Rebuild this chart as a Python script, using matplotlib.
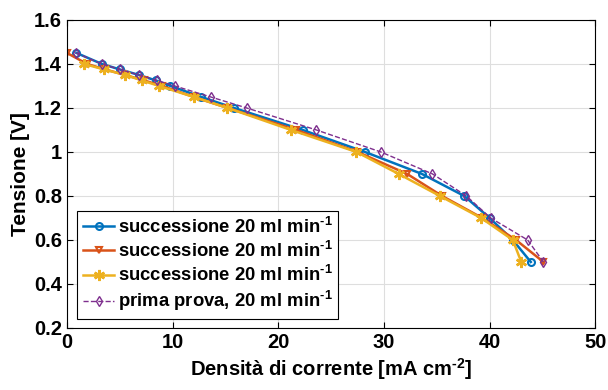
import matplotlib
matplotlib.use('Agg')
import matplotlib.pyplot as plt
from matplotlib.ticker import FormatStrFormatter

plt.rcParams['font.family'] = ['Liberation Sans', 'DejaVu Sans']
plt.rcParams['font.weight'] = 'bold'
plt.rcParams['mathtext.fontset'] = 'custom'
plt.rcParams['mathtext.rm'] = 'Liberation Sans:bold'
plt.rcParams['mathtext.bf'] = 'Liberation Sans:bold'
plt.rcParams['mathtext.it'] = 'Liberation Sans:bold'
plt.rcParams['mathtext.default'] = 'bf'

# data
blue_x = [0.9, 3.3, 5.0, 6.8, 8.4, 9.8, 12.7, 15.8, 22.3, 28.2, 33.6, 37.6, 40.0, 42.2, 43.9]
blue_y = [1.45, 1.40, 1.375, 1.35, 1.325, 1.30, 1.25, 1.20, 1.10, 1.00, 0.90, 0.80, 0.70, 0.60, 0.50]

orange_x = [0.0, 1.9, 3.6, 5.5, 7.3, 9.0, 12.0, 15.2, 21.7, 27.5, 32.2, 35.5, 39.3, 42.5, 45.1]
orange_y = [1.45, 1.40, 1.375, 1.35, 1.325, 1.30, 1.25, 1.20, 1.10, 1.00, 0.90, 0.80, 0.70, 0.60, 0.50]

yellow_x = [1.6, 3.5, 5.5, 7.1, 8.7, 12.0, 15.2, 21.2, 27.4, 31.4, 35.3, 39.2, 42.2, 43.0]
yellow_y = [1.40, 1.375, 1.35, 1.325, 1.30, 1.25, 1.20, 1.10, 1.00, 0.90, 0.80, 0.70, 0.60, 0.50]

purple_x = [0.85, 3.3, 5.0, 6.8, 8.5, 10.2, 13.6, 17.0, 23.6, 29.7, 34.6, 37.8, 40.1, 43.6, 45.1]
purple_y = [1.45, 1.40, 1.375, 1.35, 1.325, 1.30, 1.25, 1.20, 1.10, 1.00, 0.90, 0.80, 0.70, 0.60, 0.50]

sup = r'$^{\text{-1}}$'
labels = ['successione 20 ml min' + sup,
          'successione 20 ml min' + sup,
          'successione 20 ml min' + sup,
          'prima prova, 20 ml min' + sup]

fig = plt.figure(figsize=(6.08, 3.90), dpi=100)
ax = fig.add_axes([0.110, 0.159, 0.869, 0.790])

ax.plot(blue_x, blue_y, '-o', color='#0072BD', lw=1.8, ms=5, mfc='none', mew=1.5, label=labels[0])
ax.plot(orange_x, orange_y, '-v', color='#D95319', lw=1.8, ms=5, mfc='none', mew=1.5, label=labels[1])
ax.plot(yellow_x, yellow_y, '-', marker=(6, 2, 0), color='#EDB120', lw=1.8, ms=8, mew=1.8, label=labels[2])
ax.plot(purple_x, purple_y, '--d', color='#7E2F8E', lw=1.0, ms=5, mfc='none', mew=1.0, label=labels[3])

ax.set_xlim(0, 50)
ax.set_ylim(0.2, 1.6)
ax.set_xticks([0, 10, 20, 30, 40, 50])
ax.set_yticks([0.2, 0.4, 0.6, 0.8, 1.0, 1.2, 1.4, 1.6])
ax.yaxis.set_major_formatter(FormatStrFormatter('%g'))
ax.grid(True, color='#dedede', lw=0.8)
ax.set_axisbelow(True)
ax.tick_params(direction='in', top=True, right=True, labelsize=14.5, length=4, width=0.8)
for lbl in ax.get_xticklabels() + ax.get_yticklabels():
    lbl.set_fontweight('bold')
for s in ax.spines.values():
    s.set_linewidth(0.8)

ax.set_xlabel('Densità di corrente [mA cm$^{\\text{-2}}$]', fontsize=14.5, fontweight='bold', labelpad=3)
ax.set_ylabel('Tensione [V]', fontsize=15, fontweight='bold', labelpad=3)

leg = ax.legend(loc='lower left', bbox_to_anchor=(0.02, 0.03), borderaxespad=0,
                prop={'size': 13.3, 'weight': 'bold'}, fancybox=False, edgecolor='black',
                framealpha=1, handlelength=1.7, handletextpad=0.2, borderpad=0.3,
                labelspacing=0.22)
leg.get_frame().set_linewidth(0.8)

fig.savefig('out.png', dpi=100)
